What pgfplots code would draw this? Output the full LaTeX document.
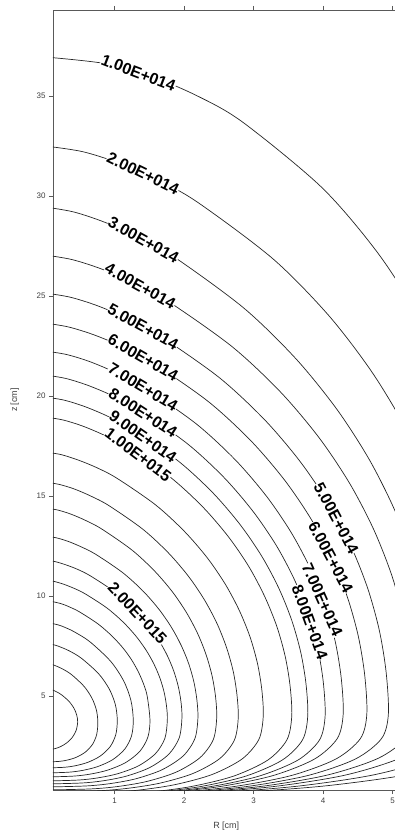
\documentclass[border=0pt]{standalone}
\usepackage{fontspec}
\setmainfont{Liberation Sans}
\usepackage{pgfplots}
\pgfplotsset{compat=1.18}
\tikzset{lbl/.style={font=\fontsize{16}{16}\selectfont\bfseries, fill=white, inner sep=0.4pt, anchor=center},
  ct/.style={smooth, solid, line width=0.7pt, black!85, mark=none}}
\begin{document}
\begin{tikzpicture}
\begin{axis}[
  name=ax,
  at={(0,0)}, anchor=south west,
  scale only axis,
  width=346.5pt, height=780pt,
  xmin=0.115, xmax=5.1, ymin=0.3, ymax=39.3,
  xtick={1,2,3,4,5}, ytick={5,10,15,20,25,30,35},
  tick align=outside, xtick pos=both, ytick pos=left, xticklabel pos=lower,
  major tick length=4pt,
  /pgf/number format/assume math mode=true,
  tick label style={font=\fontsize{8}{9}\selectfont, black!75},
  xlabel={R [cm]}, ylabel={z [cm]},
  label style={font=\fontsize{9}{10}\selectfont, black!75},
  xlabel style={at={(axis description cs:0.5,-0.046)}, anchor=center},
  ylabel style={at={(axis description cs:-0.11,0.5)}, anchor=center},
  axis line style={black!65, line width=0.9pt},
  tick style={black!65, line width=0.7pt},
]
% innermost to outermost contours (R, z)
\addplot[ct] coordinates {(0,5.4) (0.071,5.349) (0.155,5.23) (0.238,5.06) (0.349,4.72) (0.418,4.38) (0.457,4.04) (0.47,3.7) (0.448,3.28) (0.393,2.93) (0.311,2.65) (0.223,2.468) (0.147,2.37) (0.081,2.321) (0,2.3)};
\addplot[ct] coordinates {(0,6.65) (0.115,6.56) (0.251,6.355) (0.385,6.06) (0.565,5.47) (0.677,4.88) (0.74,4.29) (0.76,3.7) (0.745,3.1) (0.687,2.6) (0.582,2.2) (0.453,1.94) (0.326,1.8) (0.203,1.73) (0,1.7)};
\addplot[ct] coordinates {(0,7.65) (0.158,7.53) (0.344,7.265) (0.526,6.88) (0.772,6.11) (0.926,5.34) (1.012,4.57) (1.04,3.8) (1.019,3.08) (0.94,2.48) (0.796,2.0) (0.619,1.688) (0.446,1.52) (0.278,1.436) (0,1.4)};
\addplot[ct] coordinates {(0,8.7) (0.193,8.553) (0.303,8.406) (0.42,8.21) (0.643,7.72) (0.943,6.74) (1.131,5.76) (1.236,4.78) (1.27,3.8) (1.245,3.005) (1.147,2.343) (0.972,1.813) (0.756,1.468) (0.545,1.283) (0.34,1.19) (0,1.15)};
\addplot[ct] coordinates {(0,9.8) (0.229,9.62) (0.36,9.44) (0.499,9.2) (0.764,8.6) (0.963,8.0) (1.122,7.4) (1.247,6.8) (1.344,6.2) (1.418,5.6) (1.47,5.0) (1.51,3.8) (1.48,2.945) (1.364,2.233) (1.156,1.663) (0.899,1.292) (0.648,1.093) (0.404,0.993) (0,0.95)};
\addplot[ct] coordinates {(0,10.8) (0.129,10.73) (0.267,10.59) (0.42,10.38) (0.582,10.1) (0.891,9.4) (1.123,8.7) (1.307,8.0) (1.453,7.3) (1.567,6.6) (1.653,5.9) (1.713,5.2) (1.748,4.5) (1.76,3.8) (1.725,2.885) (1.59,2.123) (1.348,1.513) (1.048,1.116) (0.755,0.903) (0.471,0.796) (0,0.75)};
\addplot[ct] coordinates {(0,11.8) (0.145,11.72) (0.299,11.56) (0.47,11.33) (0.651,11.01) (0.997,10.22) (1.257,9.43) (1.463,8.64) (1.626,7.85) (1.754,7.06) (1.85,6.27) (1.917,5.48) (1.957,4.69) (1.97,3.9) (1.931,2.91) (1.78,2.085) (1.508,1.425) (1.173,0.996) (0.845,0.765) (0.527,0.65) (0,0.6)};
\addplot[ct] coordinates {(0,13.0) (0.162,12.91) (0.334,12.73) (0.525,12.45) (0.727,12.09) (1.113,11.18) (1.404,10.27) (1.634,9.36) (1.816,8.45) (1.958,7.54) (2.066,6.63) (2.141,5.72) (2.185,4.81) (2.2,3.9) (2.156,2.865) (1.988,2.003) (1.684,1.313) (1.31,0.864) (0.943,0.623) (0.589,0.502) (0,0.45)};
\addplot[ct] coordinates {(0,14.4) (0.181,14.3) (0.375,14.09) (0.589,13.77) (0.816,13.35) (1.25,12.3) (1.576,11.25) (1.835,10.2) (2.039,9.15) (2.199,8.1) (2.319,7.05) (2.404,6.0) (2.454,4.95) (2.47,3.9) (2.421,2.82) (2.231,1.92) (1.891,1.2) (1.471,0.732) (1.059,0.48) (0.661,0.354) (0,0.3)};
\addplot[ct] coordinates {(0,15.7) (0.204,15.58) (0.422,15.35) (0.663,14.99) (0.919,14.52) (1.407,13.34) (1.774,12.16) (2.065,10.98) (2.295,9.8) (2.475,8.62) (2.61,7.44) (2.706,6.26) (2.761,5.08) (2.78,3.9) (2.724,2.79) (2.512,1.865) (2.128,1.125) (1.655,0.644) (1.192,0.385) (0.744,0.256) (0,0.2)};
\addplot[ct] coordinates {(0,17.2) (0.231,17.07) (0.476,16.8) (0.749,16.41) (1.038,15.88) (1.589,14.56) (2.003,13.24) (2.332,11.92) (2.592,10.6) (2.795,9.28) (2.949,7.96) (3.056,6.64) (3.119,5.32) (3.14,4.0) (3.077,2.83) (2.837,1.855) (2.404,1.075) (1.87,0.568) (1.346,0.295) (0.84,0.159) (0,0.1)};
\addplot[ct] coordinates {(0,18.95) (0.261,18.8) (0.539,18.5) (0.846,18.05) (1.173,17.46) (1.796,15.96) (2.265,14.47) (2.637,12.97) (2.931,11.48) (3.16,9.98) (3.334,8.49) (3.455,6.99) (3.526,5.5) (3.55,4.0) (3.479,2.8) (3.207,1.8) (2.718,1.0) (2.114,0.48) (1.522,0.2) (0.95,0.06) (0,0)};
\addplot[ct] coordinates {(0,19.95) (0.278,19.79) (0.573,19.47) (0.901,18.99) (1.249,18.36) (1.913,16.76) (2.412,15.17) (2.807,13.57) (3.12,11.98) (3.365,10.38) (3.549,8.79) (3.679,7.19) (3.755,5.6) (3.78,4.0) (3.704,2.8) (3.415,1.8) (2.894,1.0) (2.251,0.48) (1.621,0.2) (1.011,0.06) (0,0)};
\addplot[ct] coordinates {(0,21.05) (0.296,20.88) (0.611,20.54) (0.961,20.03) (1.332,19.35) (2.039,17.64) (2.571,15.94) (2.993,14.23) (3.327,12.53) (3.588,10.82) (3.784,9.12) (3.922,7.41) (4.003,5.71) (4.03,4.0) (3.949,2.8) (3.641,1.8) (3.085,1.0) (2.4,0.48) (1.728,0.2) (1.078,0.06) (0,0)};
\addplot[ct] coordinates {(0,22.25) (0.315,22.07) (0.651,21.71) (1.023,21.16) (1.418,20.44) (2.171,18.62) (2.737,16.81) (3.186,14.99) (3.541,13.18) (3.819,11.36) (4.028,9.55) (4.175,7.73) (4.261,5.92) (4.29,4.1) (4.204,2.87) (3.876,1.845) (3.284,1.025) (2.554,0.492) (1.84,0.205) (1.148,0.062) (0,0)};
\addplot[ct] coordinates {(0,23.65) (0.34,23.45) (0.702,23.06) (1.104,22.48) (1.53,21.7) (2.343,19.74) (2.954,17.79) (3.439,15.83) (3.822,13.88) (4.122,11.92) (4.348,9.97) (4.506,8.01) (4.599,6.06) (4.63,4.1) (4.537,2.87) (4.183,1.845) (3.545,1.025) (2.757,0.492) (1.985,0.205) (1.239,0.062) (0,0)};
\addplot[ct] coordinates {(0,25.15) (0.363,24.94) (0.749,24.52) (1.178,23.89) (1.633,23.05) (2.5,20.94) (3.152,18.84) (3.669,16.73) (4.078,14.63) (4.398,12.52) (4.639,10.42) (4.808,8.31) (4.907,6.21) (4.94,4.1) (4.841,2.87) (4.463,1.845) (3.782,1.025) (2.941,0.492) (2.118,0.205) (1.322,0.062) (0,0)};
\addplot[ct] coordinates {(0,27.05) (0.39,26.82) (0.806,26.36) (1.266,25.68) (1.755,24.77) (2.687,22.48) (3.388,20.2) (3.944,17.91) (4.383,15.63) (4.727,13.34) (4.986,11.06) (5.168,8.77) (5.274,6.49) (5.31,4.2) (5.204,2.94) (4.797,1.89) (4.065,1.05) (3.162,0.504) (2.277,0.21) (1.42,0.063) (0,0)};
\addplot[ct] coordinates {(0,29.45) (0.415,29.2) (0.857,28.69) (1.347,27.94) (1.867,26.93) (2.859,24.4) (3.605,21.88) (4.196,19.35) (4.664,16.83) (5.03,14.3) (5.305,11.78) (5.499,9.25) (5.612,6.73) (5.65,4.2) (5.537,2.94) (5.104,1.89) (4.326,1.05) (3.364,0.504) (2.423,0.21) (1.511,0.063) (0,0)};
\addplot[ct] coordinates {(0,32.5) (0.537,32.22) (1.06,31.65) (1.62,30.81) (2.198,29.68) (3.279,26.86) (4.078,24.04) (4.699,21.22) (5.188,18.4) (5.569,15.58) (5.855,12.76) (6.054,9.94) (6.171,7.12) (6.21,4.3) (6.086,3.01) (5.61,1.935) (4.754,1.075) (3.697,0.516) (2.663,0.215) (1.661,0.065) (0,0)};
\addplot[ct] coordinates {(0,36.95) (0.868,36.62) (1.539,35.97) (2.199,34.99) (2.845,33.69) (3.984,30.42) (4.786,27.16) (5.393,23.89) (5.862,20.63) (6.222,17.36) (6.49,14.1) (6.675,10.83) (6.784,7.57) (6.82,4.3) (6.684,3.01) (6.161,1.935) (5.221,1.075) (4.061,0.516) (2.924,0.215) (1.824,0.065) (0,0)};
% contour labels
\node[lbl, rotate=-21] at (axis cs:1.345,36.15) {1.00E+014};
\node[lbl, rotate=-26] at (axis cs:1.41,31.13) {2.00E+014};
\node[lbl, rotate=-29] at (axis cs:1.417,27.8) {3.00E+014};
\node[lbl, rotate=-29] at (axis cs:1.37,25.5) {4.00E+014};
\node[lbl, rotate=-29] at (axis cs:1.41,23.46) {5.00E+014};
\node[lbl, rotate=-30] at (axis cs:1.41,21.92) {6.00E+014};
\node[lbl, rotate=-31] at (axis cs:1.41,20.45) {7.00E+014};
\node[lbl, rotate=-33] at (axis cs:1.41,19.16) {8.00E+014};
\node[lbl, rotate=-35] at (axis cs:1.41,17.97) {9.00E+014};
\node[lbl, rotate=-37] at (axis cs:1.34,17.06) {1.00E+015};
\node[lbl, rotate=-47] at (axis cs:1.33,9.15) {2.00E+015};
\node[lbl, rotate=-62] at (axis cs:4.19,13.9) {5.00E+014};
\node[lbl, rotate=-62] at (axis cs:4.11,11.95) {6.00E+014};
\node[lbl, rotate=-66] at (axis cs:3.99,9.8) {7.00E+014};
\node[lbl, rotate=-70] at (axis cs:3.81,8.7) {8.00E+014};
\end{axis}
\pgfresetboundingbox
\path[use as bounding box] ([shift={(-53pt,-49pt)}]ax.south west) rectangle ([shift={(342pt,790pt)}]ax.south west);
\end{tikzpicture}
\end{document}
